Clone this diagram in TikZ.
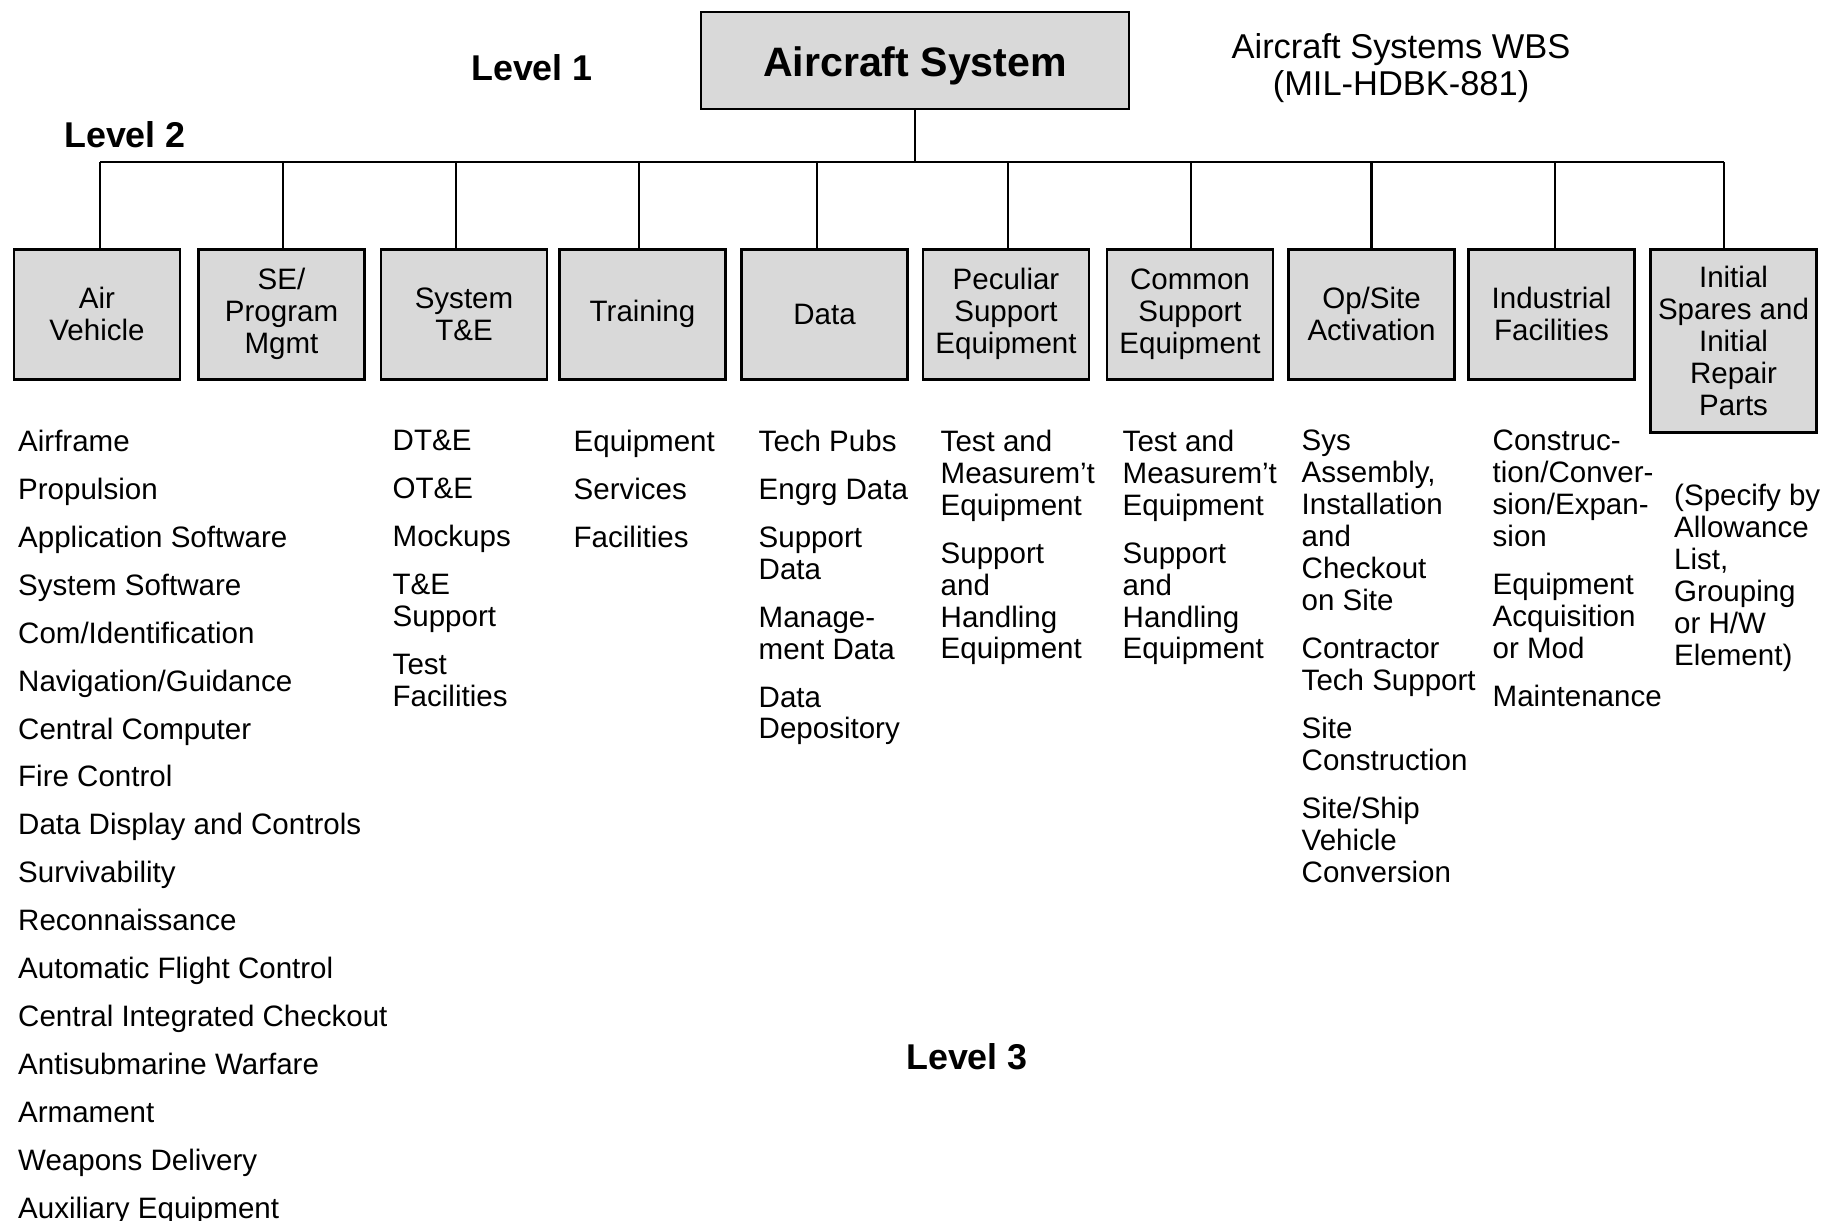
\documentclass[tikz,border=0pt]{standalone}
\usepackage{fontspec}
\setmainfont{Liberation Sans}
\usepackage{xcolor}
\definecolor{boxgray}{RGB}{217,217,217}

\tikzset{
  topbox/.style={draw, line width=0.75pt, fill=boxgray, minimum width=4.28cm,
    minimum height=0.97cm, text height=0.40cm, text depth=0.087cm,
    font=\fontsize{11.7}{13}\selectfont\bfseries},
  lvlbox/.style={draw, line width=0.75pt, fill=boxgray, minimum width=1.66cm,
    minimum height=1.30cm, anchor=north, align=center, inner sep=1pt,
    font=\fontsize{8.4}{9.1}\selectfont},
  itemlist/.style={anchor=north west, inner sep=0pt, align=left,
    font=\fontsize{8.4}{9.1}\selectfont},
  lvltext/.style={font=\fontsize{10.2}{12}\selectfont\bfseries},
  wire/.style={line width=0.6pt},
}

\begin{document}
\begin{tikzpicture}

  \useasboundingbox (0,0) rectangle (18.25,12.2);

  % Level 1.
  \node[topbox] (acsys) at (9.15,11.595) {Aircraft System};
  \node[lvltext] (lvlone) at (5.32,11.52) {Level 1};
  \node[align=center, font=\fontsize{9.8}{10.5}\selectfont] (wbs) at (14.01,11.52)
    {Aircraft Systems WBS\\(MIL-HDBK-881)};

  % Level 2.
  \node[lvltext] (lvltwo) at (1.25,10.85) {Level 2};
  \coordinate (bus) at (0,10.58);

  \node[lvlbox] (airveh) at (0.97,9.72) {Air\\Vehicle};
  \node[lvlbox] (seprog) at (2.815,9.72) {SE/\\Program\\Mgmt};
  \node[lvlbox] (systest) at (4.64,9.72) {System\\T\&E};
  \node[lvlbox] (train) at (6.425,9.72) {Training};
  \node[lvlbox] (data) at (8.245,9.72) {Data};
  \node[lvlbox] (pecsup) at (10.06,9.72) {Peculiar\\Support\\Equipment};
  \node[lvlbox] (comsup) at (11.90,9.72) {Common\\Support\\Equipment};
  \node[lvlbox] (opsite) at (13.715,9.72) {Op/Site\\Activation};
  \node[lvlbox] (indfac) at (15.515,9.72) {Industrial\\Facilities};
  \node[lvlbox, minimum height=1.83cm] (spares) at (17.335,9.72)
    {Initial\\Spares and\\Initial\\Repair\\Parts};

  % Tree lines (drops sit a little off the box centres).
  \draw[wire] (acsys.south) -- (acsys.south |- bus);
  \draw[wire] ([xshift=0.03cm]airveh.north |- bus) -- ([xshift=-0.095cm]spares.north |- bus);
  \draw[wire] ([xshift=0.03cm]airveh.north) -- ([xshift=0.03cm]airveh.north |- bus);
  \draw[wire] ([xshift=0.015cm]seprog.north) -- ([xshift=0.015cm]seprog.north |- bus);
  \draw[wire] ([xshift=-0.08cm]systest.north) -- ([xshift=-0.08cm]systest.north |- bus);
  \draw[wire] ([xshift=-0.035cm]train.north) -- ([xshift=-0.035cm]train.north |- bus);
  \draw[wire] ([xshift=-0.075cm]data.north) -- ([xshift=-0.075cm]data.north |- bus);
  \draw[wire] ([xshift=0.02cm]pecsup.north) -- ([xshift=0.02cm]pecsup.north |- bus);
  \draw[wire] ([xshift=0.01cm]comsup.north) -- ([xshift=0.01cm]comsup.north |- bus);
  \draw[wire] (opsite.north) -- (opsite.north |- bus);
  \draw[wire] ([xshift=0.035cm]indfac.north) -- ([xshift=0.035cm]indfac.north |- bus);
  \draw[wire] ([xshift=-0.095cm]spares.north) -- ([xshift=-0.095cm]spares.north |- bus);

  % Level 3.
  \node[itemlist] (airlist) at (0.175,7.91) {Airframe\\[1.6mm]
    Propulsion\\[1.6mm]
    Application Software\\[1.6mm]
    System Software\\[1.6mm]
    Com/Identification\\[1.6mm]
    Navigation/Guidance\\[1.6mm]
    Central Computer\\[1.6mm]
    Fire Control\\[1.6mm]
    Data Display and Controls\\[1.6mm]
    Survivability\\[1.6mm]
    Reconnaissance\\[1.6mm]
    Automatic Flight Control\\[1.6mm]
    Central Integrated Checkout\\[1.6mm]
    Antisubmarine Warfare\\[1.6mm]
    Armament\\[1.6mm]
    Weapons Delivery\\[1.6mm]
    Auxiliary Equipment};
  \node[itemlist] (testlist) at (3.92,7.91) {DT\&E\\[1.6mm]
    OT\&E\\[1.6mm]
    Mockups\\[1.6mm]
    T\&E\\Support\\[1.6mm]
    Test\\Facilities};
  \node[itemlist] (trainlist) at (5.73,7.91) {Equipment\\[1.6mm]
    Services\\[1.6mm]
    Facilities};
  \node[itemlist] (datalist) at (7.58,7.91) {Tech Pubs\\[1.6mm]
    Engrg Data\\[1.6mm]
    Support\\Data\\[1.6mm]
    Manage-\\ment Data\\[1.6mm]
    Data\\Depository};
  \node[itemlist] (peclist) at (9.40,7.91) {Test and\\Measurem't\\Equipment\\[1.6mm]
    Support\\and\\Handling\\Equipment};
  \node[itemlist] (comlist) at (11.22,7.91) {Test and\\Measurem't\\Equipment\\[1.6mm]
    Support\\and\\Handling\\Equipment};
  \node[itemlist] (oplist) at (13.01,7.91) {Sys\\Assembly,\\Installation\\and\\Checkout\\on Site\\[1.6mm]
    Contractor\\Tech Support\\[1.6mm]
    Site\\Construction\\[1.6mm]
    Site/Ship\\Vehicle\\Conversion};
  \node[itemlist] (faclist) at (14.92,7.91) {Construc-\\tion/Conver-\\sion/Expan-\\sion\\[1.6mm]
    Equipment\\Acquisition\\or Mod\\[1.6mm]
    Maintenance};
  \node[itemlist] (sparelist) at (16.735,7.37) {(Specify by\\Allowance\\List,\\Grouping\\or H/W\\Element)};

  \node[lvltext] (lvlthree) at (9.67,1.63) {Level 3};

\end{tikzpicture}
\end{document}
